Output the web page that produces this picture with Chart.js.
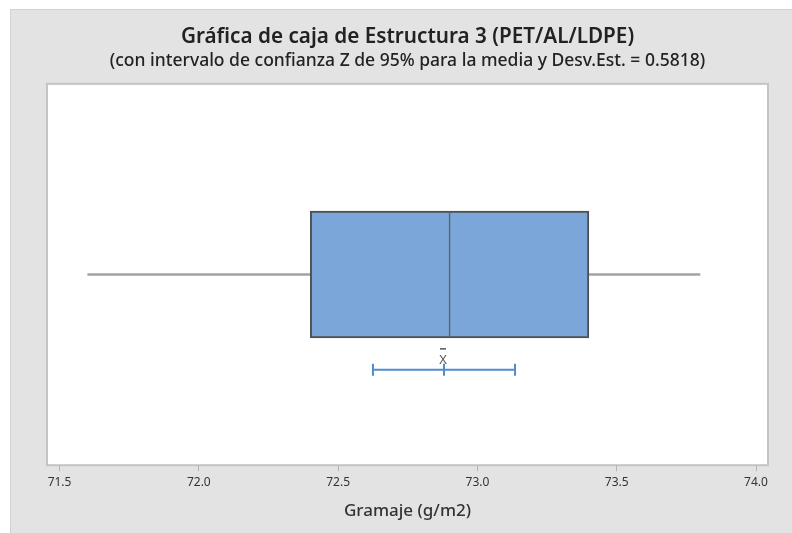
<!DOCTYPE html>
<html>
<head>
<meta charset="utf-8">
<script src="https://cdn.jsdelivr.net/npm/chart.js@4.4.1/dist/chart.umd.min.js"></script>
<style>
  html, body { margin: 0; padding: 0; background: #ffffff; }
  #wrap { width: 792px; height: 533px; }
</style>
</head>
<body>
<div id="wrap"><canvas id="c" width="792" height="533"></canvas></div>
<script>
// Gramaje (g/m2), Estructura 3 (PET/AL/LDPE)
const xTicks = [71.5, 72.0, 72.5, 73.0, 73.5, 74.0];
const quartiles = [72.4, 72.9, 73.4];      // Q1, mediana, Q3
const whiskers = [71.6, 73.8];             // mínimo, máximo
const meanCI = [72.625, 72.88, 73.135];    // IC 95% inferior, media, IC 95% superior

// vertical placement of the rows on the hidden 0..1 axis
const BOX_ROW = 0.5;
const CI_ROW = 0.25;

const FONT = '"Noto Sans", "Open Sans", sans-serif';

const frame = {
  id: 'frame',
  beforeDraw(chart) {
    const { ctx, chartArea: a, width, height } = chart;
    ctx.save();
    ctx.fillStyle = '#ffffff';
    ctx.fillRect(0, 0, width, height);
    ctx.fillStyle = '#e3e3e3';
    ctx.fillRect(10, 9, width - 10, height - 9);
    ctx.strokeStyle = '#d2d2d2';
    ctx.lineWidth = 1;
    ctx.beginPath();
    ctx.moveTo(10.5, height);
    ctx.lineTo(10.5, 9.5);
    ctx.lineTo(width, 9.5);
    ctx.stroke();
    ctx.fillStyle = '#ffffff';
    ctx.fillRect(a.left, a.top, a.right - a.left, a.bottom - a.top);
    ctx.strokeStyle = '#c4c4c4';
    ctx.lineWidth = 2;
    ctx.strokeRect(a.left, a.top, a.right - a.left, a.bottom - a.top);
    ctx.restore();
  }
};

const meanLabel = {
  id: 'meanLabel',
  afterDatasetsDraw(chart) {
    const { ctx, scales } = chart;
    const px = scales.x.getPixelForValue(meanCI[1]);
    const py = scales.y.getPixelForValue(CI_ROW);
    ctx.save();
    ctx.fillStyle = '#555555';
    ctx.font = '13px ' + FONT;
    ctx.textAlign = 'center';
    ctx.textBaseline = 'middle';
    ctx.fillText('X', px - 1, py - 10);
    ctx.strokeStyle = '#555555';
    ctx.lineWidth = 1.5;
    ctx.beginPath();
    ctx.moveTo(px - 4, py - 21);
    ctx.lineTo(px + 2, py - 21);
    ctx.stroke();
    ctx.restore();
  }
};

const boxStyle = {
  type: 'bar',
  backgroundColor: '#7ba6d9',
  borderColor: '#505050',
  borderSkipped: false,
  barThickness: 127,
  grouped: false,
  order: 1
};

const whiskerStyle = {
  type: 'line',
  borderColor: '#a3a3a3',
  borderWidth: 2.5,
  pointRadius: 0,
  fill: false,
  order: 2
};

new Chart(document.getElementById('c'), {
  type: 'bar',
  data: {
    datasets: [
      Object.assign({
        label: 'Q1–Mediana',
        data: [{ x: [quartiles[0], quartiles[1]], y: BOX_ROW }],
        borderWidth: { left: 2, right: 1, top: 2, bottom: 2 }
      }, boxStyle),
      Object.assign({
        label: 'Mediana–Q3',
        data: [{ x: [quartiles[1], quartiles[2]], y: BOX_ROW }],
        borderWidth: { left: 1, right: 2, top: 2, bottom: 2 }
      }, boxStyle),
      Object.assign({ label: 'Bigote inferior', data: [{ x: whiskers[0], y: BOX_ROW }, { x: quartiles[0], y: BOX_ROW }] }, whiskerStyle),
      Object.assign({ label: 'Bigote superior', data: [{ x: quartiles[2], y: BOX_ROW }, { x: whiskers[1], y: BOX_ROW }] }, whiskerStyle),
      {
        type: 'line',
        label: 'IC 95% de la media',
        data: meanCI.map(v => ({ x: v, y: CI_ROW })),
        borderColor: '#4f8ccc',
        borderWidth: 2,
        pointStyle: 'line',
        rotation: 90,
        pointRadius: 6,
        pointBorderWidth: 2,
        pointBorderColor: '#4f8ccc',
        fill: false,
        order: 0
      }
    ]
  },
  options: {
    indexAxis: 'y',
    responsive: false,
    animation: false,
    devicePixelRatio: 1,
    layout: { padding: { left: 47, right: 24, top: 0, bottom: 8 } },
    plugins: {
      legend: { display: false },
      tooltip: { enabled: false },
      title: {
        display: true,
        text: 'Gráfica de caja de Estructura 3 (PET/AL/LDPE)',
        color: '#222222',
        font: { family: FONT, size: 20.7, weight: '600' },
        padding: { top: 25, bottom: 1 }
      },
      subtitle: {
        display: true,
        text: '(con intervalo de confianza Z de 95% para la media y Desv.Est. = 0.5818)',
        color: '#222222',
        font: { family: FONT, size: 17.5, weight: '500' },
        padding: { top: 0, bottom: 12 }
      }
    },
    scales: {
      x: {
        type: 'linear',
        min: 71.455,
        max: 74.043,
        afterBuildTicks(axis) { axis.ticks = xTicks.map(v => ({ value: v })); },
        ticks: {
          color: '#333333',
          font: { family: FONT, size: 12 },
          padding: 4,
          maxRotation: 0,
          callback: v => v.toFixed(1)
        },
        grid: { drawOnChartArea: false, drawTicks: true, tickLength: 6, color: '#b5b5b5', lineWidth: 1 },
        border: { display: false },
        title: {
          display: true,
          text: 'Gramaje (g/m2)',
          color: '#333333',
          font: { family: FONT, size: 17, weight: '500' },
          padding: { top: 7, bottom: 4 }
        }
      },
      y: {
        type: 'linear',
        display: false,
        offset: false,
        min: 0,
        max: 1
      }
    }
  },
  plugins: [frame, meanLabel]
});
</script>
</body>
</html>
